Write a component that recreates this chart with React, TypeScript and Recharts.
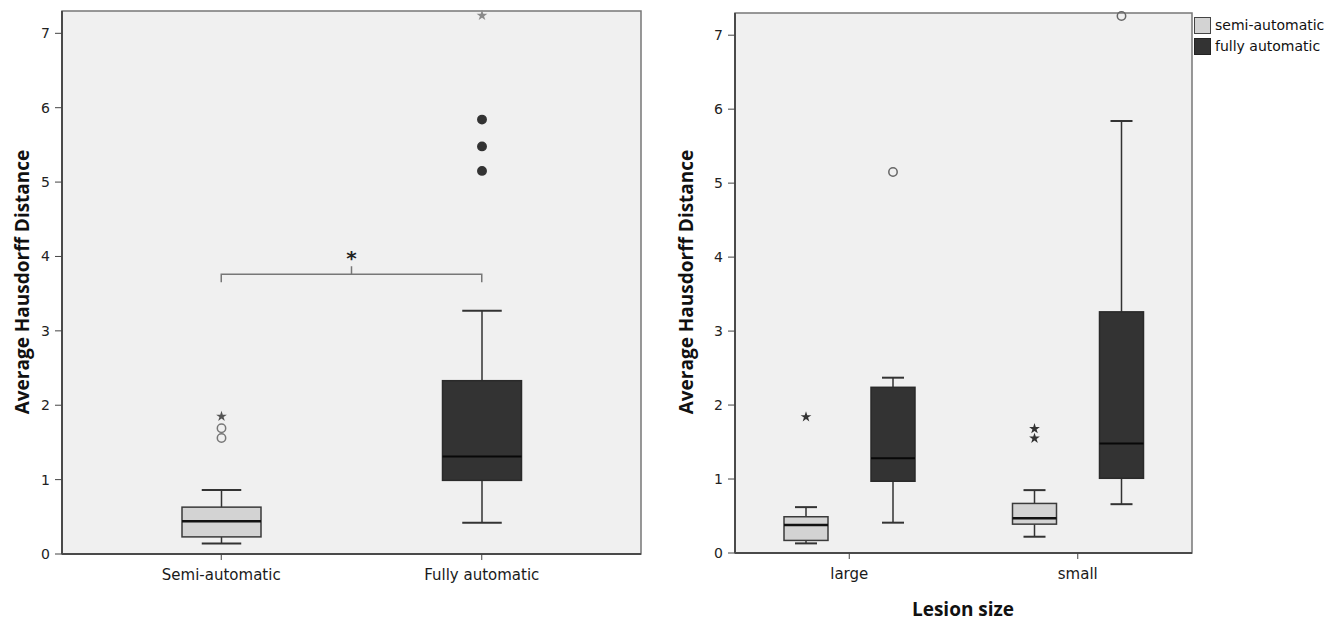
import React from "react";
import { ComposedChart, Bar, XAxis, YAxis, CartesianGrid, ReferenceLine, ReferenceArea, Symbols } from "recharts";

// left panel: method comparison
const methods = ["Semi-automatic", "Fully automatic"];
const methodMin = [0.14, 0.42];
const methodQ1 = [0.23, 0.99];
const methodMedian = [0.44, 1.31];
const methodQ3 = [0.63, 2.33];
const methodMax = [0.86, 3.27];
const methodCircles = [[1.56, 1.69], [5.15, 5.48, 5.84]];
const methodStars = [[1.85], [7.24]];

// right panel: lesion size
const lesionSizes = ["large", "small"];
const semiMin = [0.13, 0.22];
const semiQ1 = [0.17, 0.39];
const semiMedian = [0.38, 0.47];
const semiQ3 = [0.49, 0.67];
const semiMax = [0.62, 0.85];
const semiCircles = [[], []];
const semiStars = [[1.84], [1.55, 1.68]];
const fullyMin = [0.41, 0.66];
const fullyQ1 = [0.97, 1.01];
const fullyMedian = [1.28, 1.48];
const fullyQ3 = [2.24, 3.26];
const fullyMax = [2.37, 5.84];
const fullyCircles = [[5.15], [7.26]];
const fullyStars = [[], []];

const yTicks = [0, 1, 2, 3, 4, 5, 6, 7];
const yDomain = [0, 7.3];
const significance = "*";

type Stats = { min: number; q1: number; med: number; q3: number; max: number; circles: number[]; stars: number[] };

const stats = (i: number, mn: number[], q1: number[], md: number[], q3: number[], mx: number[], c: number[][], s: number[][]): Stats => ({
  min: mn[i], q1: q1[i], med: md[i], q3: q3[i], max: mx[i], circles: c[i], stars: s[i],
});

const leftData = methods.map((name, i) => ({
  name,
  box: stats(i, methodMin, methodQ1, methodMedian, methodQ3, methodMax, methodCircles, methodStars),
}));

const rightData = lesionSizes.map((name, i) => ({
  name,
  semi: stats(i, semiMin, semiQ1, semiMedian, semiQ3, semiMax, semiCircles, semiStars),
  fully: stats(i, fullyMin, fullyQ1, fullyMedian, fullyQ3, fullyMax, fullyCircles, fullyStars),
}));

type Look = { fill: string; stroke: string; median: string; medianWidth: number; circleFill: string; circleStroke: string; star: string };

const SEMI_LEFT: Look = { fill: "#d3d3d3", stroke: "#3a3a3a", median: "#111", medianWidth: 2.5, circleFill: "none", circleStroke: "#777", star: "#555" };
const FULLY_LEFT: Look = { fill: "#333333", stroke: "#2a2a2a", median: "#080808", medianWidth: 2, circleFill: "#333", circleStroke: "#333", star: "#8a8a8a" };
const SEMI_RIGHT: Look = { ...SEMI_LEFT, star: "#333" };
const FULLY_RIGHT: Look = { ...FULLY_LEFT, circleFill: "none", circleStroke: "#666" };

// whisker range is the bar; box, median and outliers placed on the same scale
const BoxShape = (props: any) => {
  const { x, y, width, height, box, look } = props as { x: number; y: number; width: number; height: number; box: Stats; look: Look };
  const top = Math.min(y, y + height);
  const bottom = Math.max(y, y + height);
  const py = (v: number) => bottom - ((v - box.min) / (box.max - box.min)) * (bottom - top);
  const cx = x + width / 2;
  const cap = width / 4;
  return (
    <g>
      <line x1={cx} x2={cx} y1={py(box.max)} y2={py(box.q3)} stroke="#333" strokeWidth={1.5} />
      <line x1={cx} x2={cx} y1={py(box.q1)} y2={py(box.min)} stroke="#333" strokeWidth={1.5} />
      <line x1={cx - cap} x2={cx + cap} y1={py(box.max)} y2={py(box.max)} stroke="#333" strokeWidth={2} />
      <line x1={cx - cap} x2={cx + cap} y1={py(box.min)} y2={py(box.min)} stroke="#333" strokeWidth={2} />
      <rect x={x} y={py(box.q3)} width={width} height={py(box.q1) - py(box.q3)} fill={look.fill} stroke={look.stroke} strokeWidth={1.5} />
      <line x1={x} x2={x + width} y1={py(box.med)} y2={py(box.med)} stroke={look.median} strokeWidth={look.medianWidth} />
      {box.circles.map((v, i) => (
        <circle key={"c" + i} cx={cx} cy={py(v)} r={4.2} fill={look.circleFill} stroke={look.circleStroke} strokeWidth={1.5} />
      ))}
      {box.stars.map((v, i) => (
        <Symbols key={"s" + i} cx={cx} cy={py(v)} type="star" size={36} fill={look.star} />
      ))}
    </g>
  );
};

const Bracket = (props: any) => {
  const { x1, y1, x2 } = props;
  const mid = (x1 + x2) / 2;
  return (
    <g>
      <path d={`M${x1},${y1 + 8} V${y1} H${x2} V${y1 + 8} M${mid},${y1} V${y1 - 8}`} fill="none" stroke="#777" strokeWidth={1.5} />
      <text x={mid} y={y1 - 9} textAnchor="middle" fontFamily="DejaVu Sans" fontWeight="bold" fontSize={20} fill="#222">{significance}</text>
    </g>
  );
};

const tickStyle = { fontFamily: "DejaVu Sans", fontSize: 14, fill: "#222" };
const catTickStyle = { fontFamily: "DejaVu Sans", fontSize: 15, fill: "#1a1a1a" };
const frame = { stroke: "#4a4a4a", strokeWidth: 2 };

const yTitle = (x: number, y: number) => () => (
  <text x={x} y={y} transform={`rotate(-90, ${x}, ${y})`} textAnchor="middle" dominantBaseline="central"
    fontFamily="Open Sans" fontWeight={700} fontSize={19} fill="#111">
    Average Hausdorff Distance
  </text>
);

export default function App() {
  return (
    <div style={{ position: "absolute", left: 0, top: 0, width: 1338, height: 626, background: "#fff" }}>
      <div style={{ position: "absolute", left: 0, top: 0 }}>
        <ComposedChart width={660} height={626} data={leftData} margin={{ top: 11, right: 19, bottom: 32, left: 22 }}>
          <CartesianGrid fill="#f0f0f0" horizontal={false} vertical={false} />
          {/* unpadded hidden axis so the frame spans the whole plot */}
          <XAxis xAxisId="frame" dataKey="name" hide />
          <ReferenceArea xAxisId="frame" y1={yDomain[0]} y2={yDomain[1]} fill="none" stroke="#777" strokeWidth={1.5} ifOverflow="visible" />
          <XAxis dataKey="name" padding={{ left: 29, right: 29 }} height={40} tickSize={6} tickMargin={9}
            tick={catTickStyle} axisLine={frame} tickLine={{ stroke: "#444" }} />
          <YAxis domain={yDomain} ticks={yTicks} width={40} tickSize={7} tickMargin={5} tick={tickStyle}
            axisLine={frame} tickLine={{ stroke: "#444" }} label={{ content: yTitle(22, 282) }} />
          <Bar dataKey={(d: any) => [d.box.min, d.box.max]} barSize={79} isAnimationActive={false}
            shape={(p: any) => <BoxShape {...p} box={p.payload.box} look={p.index === 0 ? SEMI_LEFT : FULLY_LEFT} />} />
          <ReferenceLine segment={[{ x: methods[0], y: 3.76 }, { x: methods[1], y: 3.76 }]} shape={<Bracket />} />
        </ComposedChart>
      </div>
      <div style={{ position: "absolute", left: 660, top: 0 }}>
        <ComposedChart width={540} height={626} data={rightData} barSize={44} barGap={43}
          margin={{ top: 13, right: 8, bottom: 33, left: 35 }}>
          <CartesianGrid fill="#f0f0f0" horizontal={false} vertical={false} />
          <ReferenceArea y1={yDomain[0]} y2={yDomain[1]} fill="none" stroke="#777" strokeWidth={1.5} ifOverflow="visible" />
          <XAxis dataKey="name" height={40} tickSize={6} tickMargin={9} tick={catTickStyle} axisLine={frame}
            tickLine={{ stroke: "#444" }}
            label={{
              content: () => (
                <text x={303} y={616} textAnchor="middle" fontFamily="Open Sans" fontWeight={700} fontSize={19} fill="#111">
                  Lesion size
                </text>
              ),
            }} />
          <YAxis domain={yDomain} ticks={yTicks} width={40} tickSize={7} tickMargin={5} tick={tickStyle}
            axisLine={frame} tickLine={{ stroke: "#444" }} label={{ content: yTitle(26, 282) }} />
          <Bar dataKey={(d: any) => [d.semi.min, d.semi.max]} isAnimationActive={false}
            shape={(p: any) => <BoxShape {...p} box={p.payload.semi} look={SEMI_RIGHT} />} />
          <Bar dataKey={(d: any) => [d.fully.min, d.fully.max]} isAnimationActive={false}
            shape={(p: any) => <BoxShape {...p} box={p.payload.fully} look={FULLY_RIGHT} />} />
        </ComposedChart>
      </div>
      <div style={{ position: "absolute", left: 1194, top: 15, fontFamily: "DejaVu Sans", fontSize: 14, color: "#111", lineHeight: "21px" }}>
        <div style={{ display: "flex", alignItems: "center" }}>
          <span style={{ width: 15, height: 15, background: "#d3d3d3", border: "1px solid #444", marginRight: 4 }} />
          semi-automatic
        </div>
        <div style={{ display: "flex", alignItems: "center" }}>
          <span style={{ width: 15, height: 15, background: "#333", border: "1px solid #222", marginRight: 4 }} />
          fully automatic
        </div>
      </div>
    </div>
  );
}
